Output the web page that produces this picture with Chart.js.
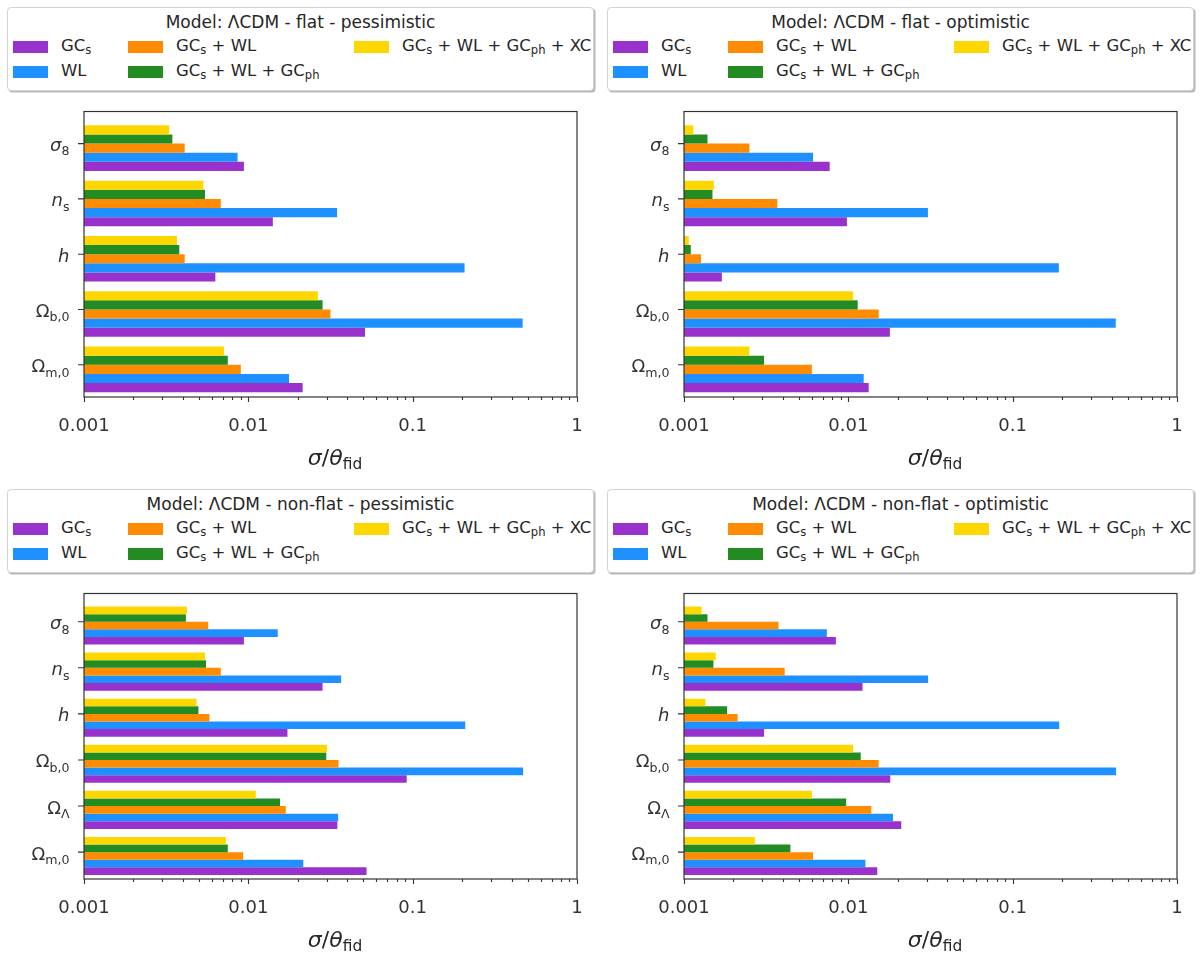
<!DOCTYPE html>
<html>
<head>
<meta charset="utf-8">
<script src="https://cdn.jsdelivr.net/npm/chart.js@4.4.1/dist/chart.umd.min.js"></script>
<style>
  html, body { margin: 0; padding: 0; background: #fff; }
  body { width: 1200px; height: 957px; position: relative; overflow: hidden; font-family: "DejaVu Sans", sans-serif; color: #262626; }
  .panel { position: absolute; width: 600px; height: 478px; }
  .legend { position: absolute; left: 7px; top: 7px; width: 585px; height: 82px; border: 1px solid #d2d2d2; border-radius: 4px; background: #fff; box-shadow: 1.5px 1.5px 0 rgba(0,0,0,0.28); }
  .legend .title { position: absolute; left: 0; right: 0; top: 2px; text-align: center; font-size: 17px; line-height: 24px; white-space: nowrap; }
  .entry { position: absolute; font-size: 16.5px; line-height: 20px; white-space: nowrap; }
  .entry .patch { position: absolute; left: 0; top: 4px; width: 35px; height: 12px; }
  .entry .txt { position: absolute; left: 48px; top: -1px; }
  sub { font-size: 70%; vertical-align: -0.28em; line-height: 0; }
  .canvasBox { position: absolute; left: 0; top: 100px; width: 600px; height: 378px; }
  .xtitle { position: absolute; width: 200px; text-align: center; font-size: 22px; line-height: 26px; white-space: nowrap; }
  .xtitle i { font-style: italic; }
</style>
</head>
<body>
<script>
'use strict';

// ── data ─────────────────────────────────────────────────────────
const probeLabels = ['GC<sub>s</sub>', 'WL', 'GC<sub>s</sub> + WL', 'GC<sub>s</sub> + WL + GC<sub>ph</sub>', 'GC<sub>s</sub> + WL + GC<sub>ph</sub> + XC'];
const probeColors = ['#9932CC', '#1E90FF', '#FF8C00', '#228B22', '#FFD700'];

const paramsFlat    = ['σ_8', 'n_s', 'h', 'Ω_b,0', 'Ω_m,0'];
const paramsNonFlat = ['σ_8', 'n_s', 'h', 'Ω_b,0', 'Ω_Λ', 'Ω_m,0'];

const xTickValues = [0.001, 0.01, 0.1, 1];
const xTickLabels = ['0.001', '0.01', '0.1', '1'];

// flat - pessimistic
const flatPessGCs   = [0.0094, 0.0141, 0.0063, 0.0513, 0.0214];
const flatPessWL    = [0.0086, 0.0347, 0.207, 0.467, 0.0177];
const flatPessGCWL  = [0.0041, 0.0068, 0.0041, 0.0316, 0.0090];
const flatPessGCph  = [0.00345, 0.00545, 0.0038, 0.0283, 0.0075];
const flatPessXC    = [0.0033, 0.00533, 0.00368, 0.0265, 0.0071];

// flat - optimistic
const flatOptGCs    = [0.0077, 0.0098, 0.0017, 0.0179, 0.0133];
const flatOptWL     = [0.0061, 0.0305, 0.191, 0.424, 0.0124];
const flatOptGCWL   = [0.0025, 0.0037, 0.00127, 0.0153, 0.0060];
const flatOptGCph   = [0.00139, 0.00149, 0.0011, 0.0114, 0.00307];
const flatOptXC     = [0.00114, 0.00152, 0.00107, 0.0107, 0.0025];

// non-flat - pessimistic
const nfPessGCs     = [0.0094, 0.0283, 0.0173, 0.092, 0.0348, 0.0524];
const nfPessWL      = [0.0151, 0.0367, 0.209, 0.470, 0.0352, 0.0216];
const nfPessGCWL    = [0.0057, 0.0068, 0.0058, 0.0354, 0.0169, 0.0093];
const nfPessGCph    = [0.00417, 0.00553, 0.00497, 0.0298, 0.0156, 0.0075];
const nfPessXC      = [0.00423, 0.00545, 0.00484, 0.0301, 0.0111, 0.0073];

// non-flat - optimistic
const nfOptGCs      = [0.0084, 0.0122, 0.00307, 0.0180, 0.0210, 0.0150];
const nfOptWL       = [0.0074, 0.0306, 0.192, 0.426, 0.0187, 0.0127];
const nfOptGCWL     = [0.00376, 0.0041, 0.00212, 0.0153, 0.0138, 0.0061];
const nfOptGCph     = [0.00139, 0.00151, 0.00183, 0.0119, 0.0097, 0.00444];
const nfOptXC       = [0.00128, 0.00156, 0.00135, 0.0107, 0.0060, 0.0027];

const panels = [
  { left: 0,   top: 0,   title: 'Model: ΛCDM - flat - pessimistic',     params: paramsFlat,    series: [flatPessGCs, flatPessWL, flatPessGCWL, flatPessGCph, flatPessXC] },
  { left: 600, top: 0,   title: 'Model: ΛCDM - flat - optimistic',      params: paramsFlat,    series: [flatOptGCs, flatOptWL, flatOptGCWL, flatOptGCph, flatOptXC] },
  { left: 0,   top: 482, title: 'Model: ΛCDM - non-flat - pessimistic', params: paramsNonFlat, series: [nfPessGCs, nfPessWL, nfPessGCWL, nfPessGCph, nfPessXC] },
  { left: 600, top: 482, title: 'Model: ΛCDM - non-flat - optimistic',  params: paramsNonFlat, series: [nfOptGCs, nfOptWL, nfOptGCWL, nfOptGCph, nfOptXC] },
];

// ── layout / style ───────────────────────────────────────────────
const FONT = '"DejaVu Sans"';
const INK = '#333333';
const CAT_PCT = 0.825;
const FRAME_PAD = 9;          // axes frame sits a little above the first bar band
const legendCols = [13, 128, 354];
const legendRows = [37, 62];
const legendSlots = [[0, 0], [0, 1], [1, 0], [1, 1], [2, 0]];

// draws "base_sub" labels the way mathtext does
function drawMath(ctx, label, xRight, baseline, size) {
  const [base, sub] = label.split('_');
  const italic = /^[a-zσθ]/.test(base);
  const fBase = `${italic ? 'italic ' : ''}${size}px ${FONT}`;
  const fSub = `${(size * 0.7).toFixed(1)}px ${FONT}`;
  ctx.font = fBase; const wb = ctx.measureText(base).width;
  ctx.font = fSub;  const ws = sub ? ctx.measureText(sub).width : 0;
  const x = xRight - wb - ws;
  ctx.textAlign = 'left'; ctx.textBaseline = 'alphabetic'; ctx.fillStyle = INK;
  ctx.font = fBase; ctx.fillText(base, x, baseline);
  if (sub) { ctx.font = fSub; ctx.fillText(sub, x + wb, baseline + size * 0.24); }
}

const frameAndLabels = {
  id: 'frameAndLabels',
  afterDraw(chart) {
    const { ctx, chartArea: ca, scales } = chart;
    const xs = scales.x, ys = scales.y;
    ctx.save();
    ctx.strokeStyle = INK; ctx.lineWidth = 1.1;

    // x ticks: majors + minors
    ctx.beginPath();
    xTickValues.forEach((v, i) => {
      const px = Math.round(xs.getPixelForValue(v)) + 0.5;
      ctx.moveTo(px, ca.bottom); ctx.lineTo(px, ca.bottom + 5);
      if (i < xTickValues.length - 1) {
        for (let k = 2; k <= 9; k++) {
          const mx = Math.round(xs.getPixelForValue(v * k)) + 0.5;
          ctx.moveTo(mx, ca.bottom); ctx.lineTo(mx, ca.bottom + 3);
        }
      }
    });

    // y ticks sit half a bar above the group centre
    const band = ys.getPixelForValue(1) - ys.getPixelForValue(0);
    const bar = band * CAT_PCT / chart.data.datasets.length;
    const tickYs = chart.data.labels.map((_, i) => ys.getPixelForValue(i) - bar / 2);
    tickYs.forEach(ty => { ctx.moveTo(ca.left, ty); ctx.lineTo(ca.left - 6, ty); });
    ctx.stroke();

    chart.data.labels.forEach((lab, i) => drawMath(ctx, lab, ca.left - 14.5, tickYs[i] + 7.5, 18));

    // axes frame
    ctx.lineWidth = 1.2;
    ctx.strokeRect(ca.left, ca.top - FRAME_PAD, ca.right - ca.left, ca.bottom - ca.top + FRAME_PAD);
    ctx.restore();
  }
};

function isMajor(v) {
  const l = Math.log10(v);
  return Math.abs(l - Math.round(l)) < 1e-6;
}

panels.forEach(p => {
  const div = document.createElement('div');
  div.className = 'panel';
  div.style.left = p.left + 'px';
  div.style.top = p.top + 'px';

  let legendHtml = `<div class="legend"><div class="title">${p.title}</div></div>`;
  probeLabels.forEach((lab, i) => {
    const [c, r] = legendSlots[i];
    legendHtml += `<div class="entry" style="left:${legendCols[c]}px;top:${legendRows[r]}px">` +
      `<div class="patch" style="background:${probeColors[i]}"></div><div class="txt">${lab}</div></div>`;
  });
  div.innerHTML = legendHtml +
    `<div class="canvasBox"><canvas width="600" height="378"></canvas></div>` +
    `<div class="xtitle" style="left:235px;top:445px"><i>σ</i>/<i>θ</i><sub>fid</sub></div>`;
  document.body.appendChild(div);

  // reversed so the XC bar is drawn on top of each group
  const order = [4, 3, 2, 1, 0];
  new Chart(div.querySelector('canvas').getContext('2d'), {
    type: 'bar',
    data: {
      labels: p.params,
      datasets: order.map(i => ({
        label: probeLabels[i],
        data: p.series[i],
        backgroundColor: probeColors[i],
        borderWidth: 0,
        categoryPercentage: CAT_PCT,
        barPercentage: 1,
      })),
    },
    options: {
      indexAxis: 'y',
      responsive: false,
      animation: false,
      devicePixelRatio: 1,
      layout: { padding: { top: 20.5, right: 23, left: 0, bottom: 0 } },
      plugins: { legend: { display: false }, tooltip: { enabled: false } },
      scales: {
        x: {
          type: 'logarithmic', min: 0.001, max: 1,
          grid: { display: false }, border: { display: false },
          ticks: {
            autoSkip: false, maxRotation: 0, padding: 10.5, color: INK,
            font: { family: 'DejaVu Sans', size: 18 },
            callback: v => isMajor(v) ? xTickLabels[xTickValues.findIndex(t => Math.abs(t - v) / t < 1e-6)] : '',
          },
          afterFit: s => { s.height = 81; },
        },
        y: {
          type: 'category',
          grid: { display: false }, border: { display: false },
          ticks: { display: false },
          afterFit: s => { s.width = 84; },
        },
      },
    },
    plugins: [frameAndLabels],
  });
});
</script>
</body>
</html>
